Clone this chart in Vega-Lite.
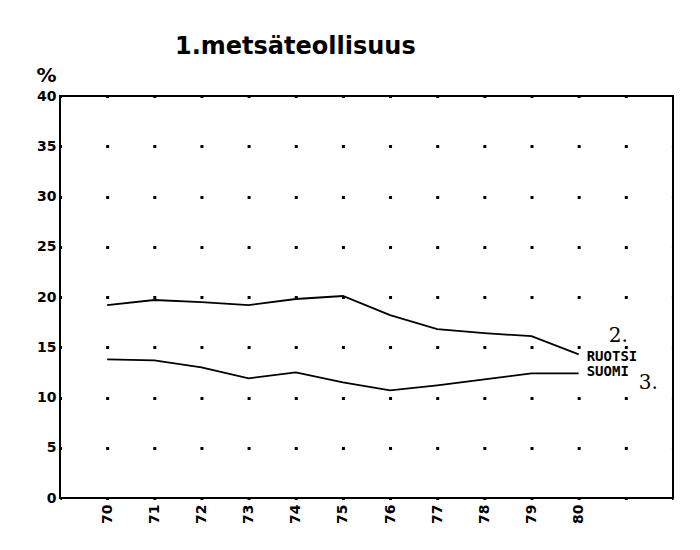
{
  "$schema": "https://vega.github.io/schema/vega-lite/v6.json",
  "autosize": "none",
  "width": 613,
  "height": 402,
  "padding": {"left": 60, "top": 96, "right": 27, "bottom": 52},
  "background": "white",
  "title": {
    "text": "1.metsäteollisuus",
    "anchor": "start",
    "frame": "group",
    "dx": 115,
    "offset": 6,
    "font": "DejaVu Sans",
    "fontSize": 24,
    "fontWeight": "bold",
    "color": "black"
  },
  "config": {
    "view": {"stroke": "black", "strokeWidth": 2},
    "axis": {
      "labelFont": "DejaVu Sans",
      "labelFontWeight": "bold",
      "labelColor": "black",
      "labelFontSize": 14,
      "domain": false
    }
  },
  "datasets": {
    "series": [
      {"maa": "RUOTSI", "vuosi": 70, "osuus": 19.2},
      {"maa": "RUOTSI", "vuosi": 71, "osuus": 19.7},
      {"maa": "RUOTSI", "vuosi": 72, "osuus": 19.5},
      {"maa": "RUOTSI", "vuosi": 73, "osuus": 19.2},
      {"maa": "RUOTSI", "vuosi": 74, "osuus": 19.8},
      {"maa": "RUOTSI", "vuosi": 75, "osuus": 20.1},
      {"maa": "RUOTSI", "vuosi": 76, "osuus": 18.2},
      {"maa": "RUOTSI", "vuosi": 77, "osuus": 16.8},
      {"maa": "RUOTSI", "vuosi": 78, "osuus": 16.4},
      {"maa": "RUOTSI", "vuosi": 79, "osuus": 16.1},
      {"maa": "RUOTSI", "vuosi": 80, "osuus": 14.3},
      {"maa": "SUOMI", "vuosi": 70, "osuus": 13.8},
      {"maa": "SUOMI", "vuosi": 71, "osuus": 13.7},
      {"maa": "SUOMI", "vuosi": 72, "osuus": 13.0},
      {"maa": "SUOMI", "vuosi": 73, "osuus": 11.9},
      {"maa": "SUOMI", "vuosi": 74, "osuus": 12.5},
      {"maa": "SUOMI", "vuosi": 75, "osuus": 11.5},
      {"maa": "SUOMI", "vuosi": 76, "osuus": 10.7},
      {"maa": "SUOMI", "vuosi": 77, "osuus": 11.2},
      {"maa": "SUOMI", "vuosi": 78, "osuus": 11.8},
      {"maa": "SUOMI", "vuosi": 79, "osuus": 12.4},
      {"maa": "SUOMI", "vuosi": 80, "osuus": 12.4}
    ]
  },
  "data": {"name": "series"},
  "layer": [
    {
      "mark": {"type": "line", "color": "black", "strokeWidth": 1.8},
      "encoding": {
        "x": {
          "field": "vuosi",
          "type": "quantitative",
          "scale": {"domain": [69, 82], "nice": false, "zero": false},
          "axis": {
            "title": null,
            "values": [70, 71, 72, 73, 74, 75, 76, 77, 78, 79, 80],
            "labelAngle": 270,
            "labelAlign": "right",
            "labelBaseline": "middle",
            "labelPadding": 6,
            "ticks": false,
            "grid": false
          }
        },
        "y": {
          "field": "osuus",
          "type": "quantitative",
          "scale": {"domain": [0, 40], "nice": false},
          "axis": {
            "title": "%",
            "titleAngle": 0,
            "titleAlign": "center",
            "titleBaseline": "alphabetic",
            "titleX": -14,
            "titleY": -15,
            "titleFont": "DejaVu Sans",
            "titleFontSize": 20,
            "titleFontWeight": "bold",
            "titleColor": "black",
            "values": [0, 5, 10, 15, 20, 25, 30, 35, 40],
            "ticks": false,
            "labelPadding": 4,
            "grid": true,
            "gridColor": "black",
            "gridOpacity": 1,
            "gridWidth": 3,
            "gridDash": [3, 44.15],
            "gridDashOffset": 1.5
          }
        },
        "detail": {"field": "maa"}
      }
    },
    {
      "transform": [{"filter": "datum.vuosi == 80 && datum.maa == 'RUOTSI'"}],
      "mark": {"type": "text", "align": "left", "baseline": "middle", "dx": 8, "dy": 3, "font": "DejaVu Sans Mono", "fontWeight": "bold", "fontSize": 14, "color": "black"},
      "encoding": {
        "x": {"field": "vuosi", "type": "quantitative"},
        "y": {"field": "osuus", "type": "quantitative"},
        "text": {"field": "maa"}
      }
    },
    {
      "transform": [{"filter": "datum.vuosi == 80 && datum.maa == 'SUOMI'"}],
      "mark": {"type": "text", "align": "left", "baseline": "middle", "dx": 8, "dy": -1, "font": "DejaVu Sans Mono", "fontWeight": "bold", "fontSize": 14, "color": "black"},
      "encoding": {
        "x": {"field": "vuosi", "type": "quantitative"},
        "y": {"field": "osuus", "type": "quantitative"},
        "text": {"field": "maa"}
      }
    },
    {
      "transform": [{"filter": "datum.vuosi == 80 && datum.maa == 'RUOTSI'"}],
      "mark": {"type": "text", "align": "left", "baseline": "alphabetic", "dx": 30, "dy": -12, "font": "DejaVu Serif", "fontSize": 20, "color": "black", "text": "2."},
      "encoding": {
        "x": {"field": "vuosi", "type": "quantitative"},
        "y": {"field": "osuus", "type": "quantitative"}
      }
    },
    {
      "transform": [{"filter": "datum.vuosi == 80 && datum.maa == 'SUOMI'"}],
      "mark": {"type": "text", "align": "left", "baseline": "alphabetic", "dx": 60, "dy": 16, "font": "DejaVu Serif", "fontSize": 20, "color": "black", "text": "3."},
      "encoding": {
        "x": {"field": "vuosi", "type": "quantitative"},
        "y": {"field": "osuus", "type": "quantitative"}
      }
    }
  ]
}
